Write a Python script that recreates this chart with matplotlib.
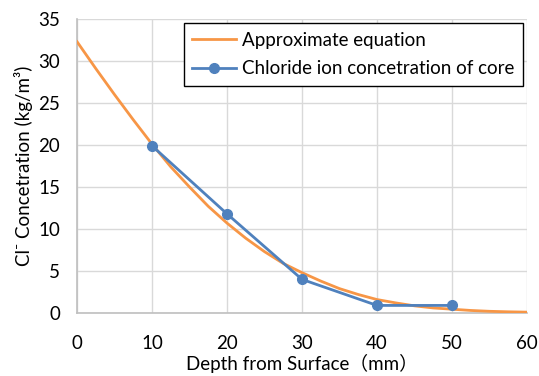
"""
Chloride ion concentration vs. depth from surface (core data and approximate equation).
"""

import matplotlib

matplotlib.use("Agg")
import matplotlib.pyplot as plt

# approximate equation curve, every 2.5 mm
EQ_DEPTH = [0, 2.5, 5, 7.5, 10, 12.5, 15, 17.5, 20, 22.5, 25, 27.5, 30,
            32.5, 35, 37.5, 40, 42.5, 45, 47.5, 50, 52.5, 55, 57.5, 60]
EQ_CONC = [32.3, 29.1, 26.0, 23.0, 20.1, 17.4, 15.0, 12.7, 10.7, 8.9, 7.3,
           5.9, 4.8, 3.8, 2.9, 2.2, 1.6, 1.2, 0.85, 0.6, 0.45, 0.3, 0.2, 0.14, 0.1]

# measured core values
CORE_DEPTH = [10, 20, 30, 40, 50]
CORE_CONC = [19.9, 11.8, 4.0, 0.9, 0.9]

X_TICKS = [0, 10, 20, 30, 40, 50, 60]
Y_TICKS = [0, 5, 10, 15, 20, 25, 30, 35]

ORANGE = "#F79646"
BLUE = "#4F81BD"

plt.rcParams["font.family"] = ["Lato", "Noto Sans CJK JP", "DejaVu Sans"]

fig = plt.figure(figsize=(5.39, 3.76), dpi=100)
ax = fig.add_axes([0.1429, 0.1676, 0.8348, 0.7819])

ax.plot(EQ_DEPTH, EQ_CONC, color=ORANGE, linewidth=2, label="Approximate equation", zorder=3)
ax.plot(CORE_DEPTH, CORE_CONC, color=BLUE, linewidth=2, marker="o", markersize=7,
        label="Chloride ion concetration of core", zorder=4)

ax.set_xlim(0, 60)
ax.set_ylim(0, 35)
ax.set_xticks(X_TICKS)
ax.set_yticks(Y_TICKS)
ax.tick_params(length=0, labelsize=13.5, colors="#000000")
ax.tick_params(axis="x", pad=16)
ax.tick_params(axis="y", pad=12)

ax.grid(True, color="#D9D9D9", linewidth=1)
ax.set_axisbelow(True)
for side in ("top", "right"):
    ax.spines[side].set_visible(False)
for side in ("left", "bottom"):
    ax.spines[side].set_color("#BFBFBF")
    ax.spines[side].set_linewidth(1.2)

ax.set_xlabel("Depth from Surface（mm）", fontsize=13.5, labelpad=1)
ax.set_ylabel("Cl⁻ Concetration (kg/m³)", fontsize=13.5, labelpad=4)

leg = ax.legend(loc="upper right", bbox_to_anchor=(0.991, 0.985), fontsize=13.5,
                frameon=True, fancybox=False, edgecolor="#000000", framealpha=1,
                handlelength=2.3, handletextpad=0.35, borderpad=0.45,
                labelspacing=0.6, borderaxespad=0)
leg.get_frame().set_linewidth(1)

fig.savefig("out.png", dpi=100)
plt.close(fig)
